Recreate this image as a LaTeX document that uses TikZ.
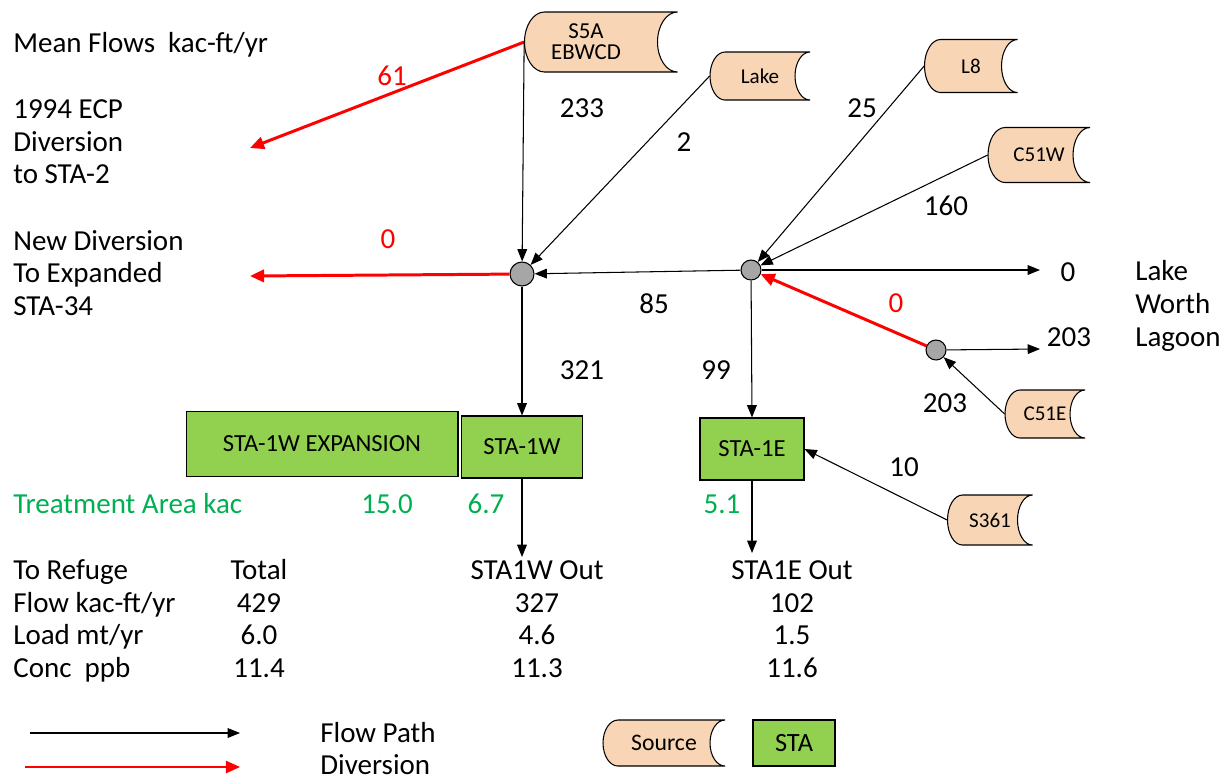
\documentclass[tikz,border=0pt]{standalone}
\usepackage{fontspec}
\setmainfont{Carlito}
\usetikzlibrary{arrows.meta,calc}

\definecolor{srcfill}{RGB}{248,213,181}
\definecolor{stagreen}{RGB}{146,208,80}
\definecolor{jgray}{RGB}{166,166,166}
\definecolor{areagreen}{RGB}{0,176,80}

% source symbol: name, centre, width, height, curve, text
\newcommand{\srcbox}[6]{%
  \draw[srcshape] (#2) ++({-#3/2+#5},{#4/2}) -- ++({#3-#5},0)
    arc[start angle=90,end angle=270,x radius=#5,y radius=#4/2]
    -- ++({#5-#3},0)
    arc[start angle=270,end angle=90,x radius=#5,y radius=#4/2] -- cycle;
  \node[srcnode,minimum width={#3*0.02cm},minimum height={#4*0.02cm}]
    (#1) at (#2) {#6};}

\begin{document}
\begin{tikzpicture}[x=0.02cm,y=0.02cm,
    flow/.style={draw=black,line width=0.6pt,-{Triangle[length=7pt,width=5.5pt]}},
    divert/.style={draw=red,line width=1.7pt,-{Triangle[length=8pt,width=7pt]}},
    junction/.style={circle,draw,fill=jgray,line width=0.6pt,inner sep=0pt},
    stabox/.style={draw,fill=stagreen,line width=0.6pt,inner sep=0pt,font=\fontsize{14}{16}\selectfont},
    srcshape/.style={draw,fill=srcfill,line width=0.6pt},
    srcnode/.style={inner sep=0pt,align=center,font=\fontsize{12}{13}\selectfont},
    mlbl/.style={inner sep=0pt,font=\fontsize{16.5}{18.6}\selectfont},
    lbl/.style={mlbl,text height=14pt,text depth=3.4pt},
    redlbl/.style={lbl,text=red},
    arealbl/.style={lbl,text=areagreen}]
  \useasboundingbox (0,0) rectangle (1229,-779);

  % titles
  \node[lbl,anchor=west] (title) at (13,-43) {Mean Flows\ \ kac-ft/yr};
  \node[mlbl,anchor=west,align=left] (ecp) at (13,-142) {1994 ECP\\Diversion\\to STA-2};
  \node[mlbl,anchor=west,align=left] (newdiv) at (13,-273) {New Diversion\\To Expanded\\STA-34};
  \node[mlbl,anchor=west,align=left] (lwl) at (1135,-306) {Lake\\Worth\\Lagoon};

  % sources
  \srcbox{s5a}{601,-42}{153}{60}{20}{\fontsize{13}{14}\selectfont S5A\hspace*{0.6cm}\mbox{}\\[-1pt]\fontsize{13}{14}\selectfont EBWCD\hspace*{0.6cm}\mbox{}}
  \srcbox{lake}{760,-76}{100}{48}{15}{Lake}
  \srcbox{l8}{971,-66}{93}{53}{16}{L8}
  \srcbox{c51w}{1039,-155}{102}{55}{17}{C51W}
  \srcbox{c51e}{1045,-414}{80}{48}{15}{C51E}
  \srcbox{s361}{990,-520}{85}{50}{15}{S361}

  % junctions
  \node[junction,minimum size=0.48cm] (j1) at (522,-274) {};
  \node[junction,minimum size=0.4cm] (j2) at (751,-270) {};
  \node[junction,minimum size=0.4cm] (j3) at (936,-350) {};

  % treatment areas
  \node[stabox,minimum width=5.44cm,minimum height=1.3cm] (sta1wx) at (322,-444) {STA-1W EXPANSION};
  \node[stabox,minimum width=2.42cm,minimum height=1.24cm] (sta1w) at (522,-447) {STA-1W};
  \node[stabox,minimum width=2.08cm,minimum height=1.24cm] (sta1e) at (752,-449) {STA-1E};

  % free ends
  \coordinate (ecpend) at (250,-148);
  \coordinate (newend) at (250,-276);
  \coordinate (lwlend) at (1040,-270);
  \coordinate (c51end) at (1040,-349);
  \coordinate (wout) at (522,-557);
  \coordinate (eout) at (752,-553);

  % connectors
  \draw[divert] (s5a.west) -- (ecpend);
  \draw[flow] (s5a.west) -- (j1);
  \draw[flow] (lake.west) -- (j1);
  \draw[flow] (l8.west) -- (j2);
  \draw[flow] (c51w.west) -- (j2);
  \draw[flow] (j2) -- (j1);
  \draw[flow] (j2) -- (lwlend);
  \draw[divert] (j1) -- (newend);
  \draw[flow] (j1) -- (sta1w.north);
  \draw[flow] (j2) -- (sta1e.north);
  \draw[divert] (j3) -- (j2);
  \draw[flow] (j3) -- (c51end);
  \draw[flow] (c51e.west) -- (j3);
  \draw[flow] (s361.west) -- (sta1e.east);
  \draw[flow] (sta1w.south) -- (wout);
  \draw[flow] (sta1e.south) -- (eout);

  % flow values
  \node[redlbl] (q61) at (392,-76) {61};
  \node[redlbl] (q0a) at (388,-239) {0};
  \node[redlbl] (q0b) at (896,-303) {0};
  \node[lbl] (q233) at (582,-108) {233};
  \node[lbl] (q2) at (684,-142) {2};
  \node[lbl] (q25) at (862,-108) {25};
  \node[lbl] (q160) at (946,-206) {160};
  \node[lbl] (q0c) at (1068,-272) {0};
  \node[lbl] (q85) at (654,-304) {85};
  \node[lbl] (q203a) at (1069,-337) {203};
  \node[lbl] (q203b) at (945,-403) {203};
  \node[lbl] (q321) at (582,-370) {321};
  \node[lbl] (q99) at (716,-370) {99};
  \node[lbl] (q10) at (904,-467) {10};

  % treatment area
  \node[arealbl,anchor=west] (area) at (13,-504) {Treatment Area kac};
  \node[arealbl] (a15) at (387,-504) {15.0};
  \node[arealbl] (a67) at (486,-504) {6.7};
  \node[arealbl] (a51) at (722,-504) {5.1};

  % table
  \foreach \name/\tot/\wv/\ev [count=\i] in {To Refuge/Total/STA1W Out/STA1E Out,
      {Flow kac-ft/yr}/429/327/102, {Load mt/yr}/6.0/4.6/1.5, {Conc\ \ ppb}/11.4/11.3/11.6}{
    \node[lbl,anchor=west] (row\i-a) at (13,{-570-32.7*(\i-1)}) {\name};
    \node[lbl] (row\i-b) at (259,{-570-32.7*(\i-1)}) {\tot};
    \node[lbl] (row\i-c) at (537,{-570-32.7*(\i-1)}) {\wv};
    \node[lbl] (row\i-d) at (792,{-570-32.7*(\i-1)}) {\ev};
  }

  % legend
  \coordinate (lega1) at (30,-733);
  \coordinate (lega2) at (240,-733);
  \coordinate (legb1) at (25,-767);
  \coordinate (legb2) at (240,-767);
  \draw[flow] (lega1) -- (lega2);
  \draw[divert,line width=0.8pt] (legb1) -- (legb2);
  \node[lbl,anchor=west] (legflow) at (320,-733) {Flow Path};
  \node[lbl,anchor=west] (legdiv) at (320,-765) {Diversion};
  \srcbox{legsrc}{664,-743}{122}{46}{15}{\fontsize{13.5}{15}\selectfont Source}
  \node[stabox,minimum width=1.64cm,minimum height=0.92cm,font=\fontsize{15}{17}\selectfont] (legsta) at (794,-743) {STA};
\end{tikzpicture}
\end{document}
